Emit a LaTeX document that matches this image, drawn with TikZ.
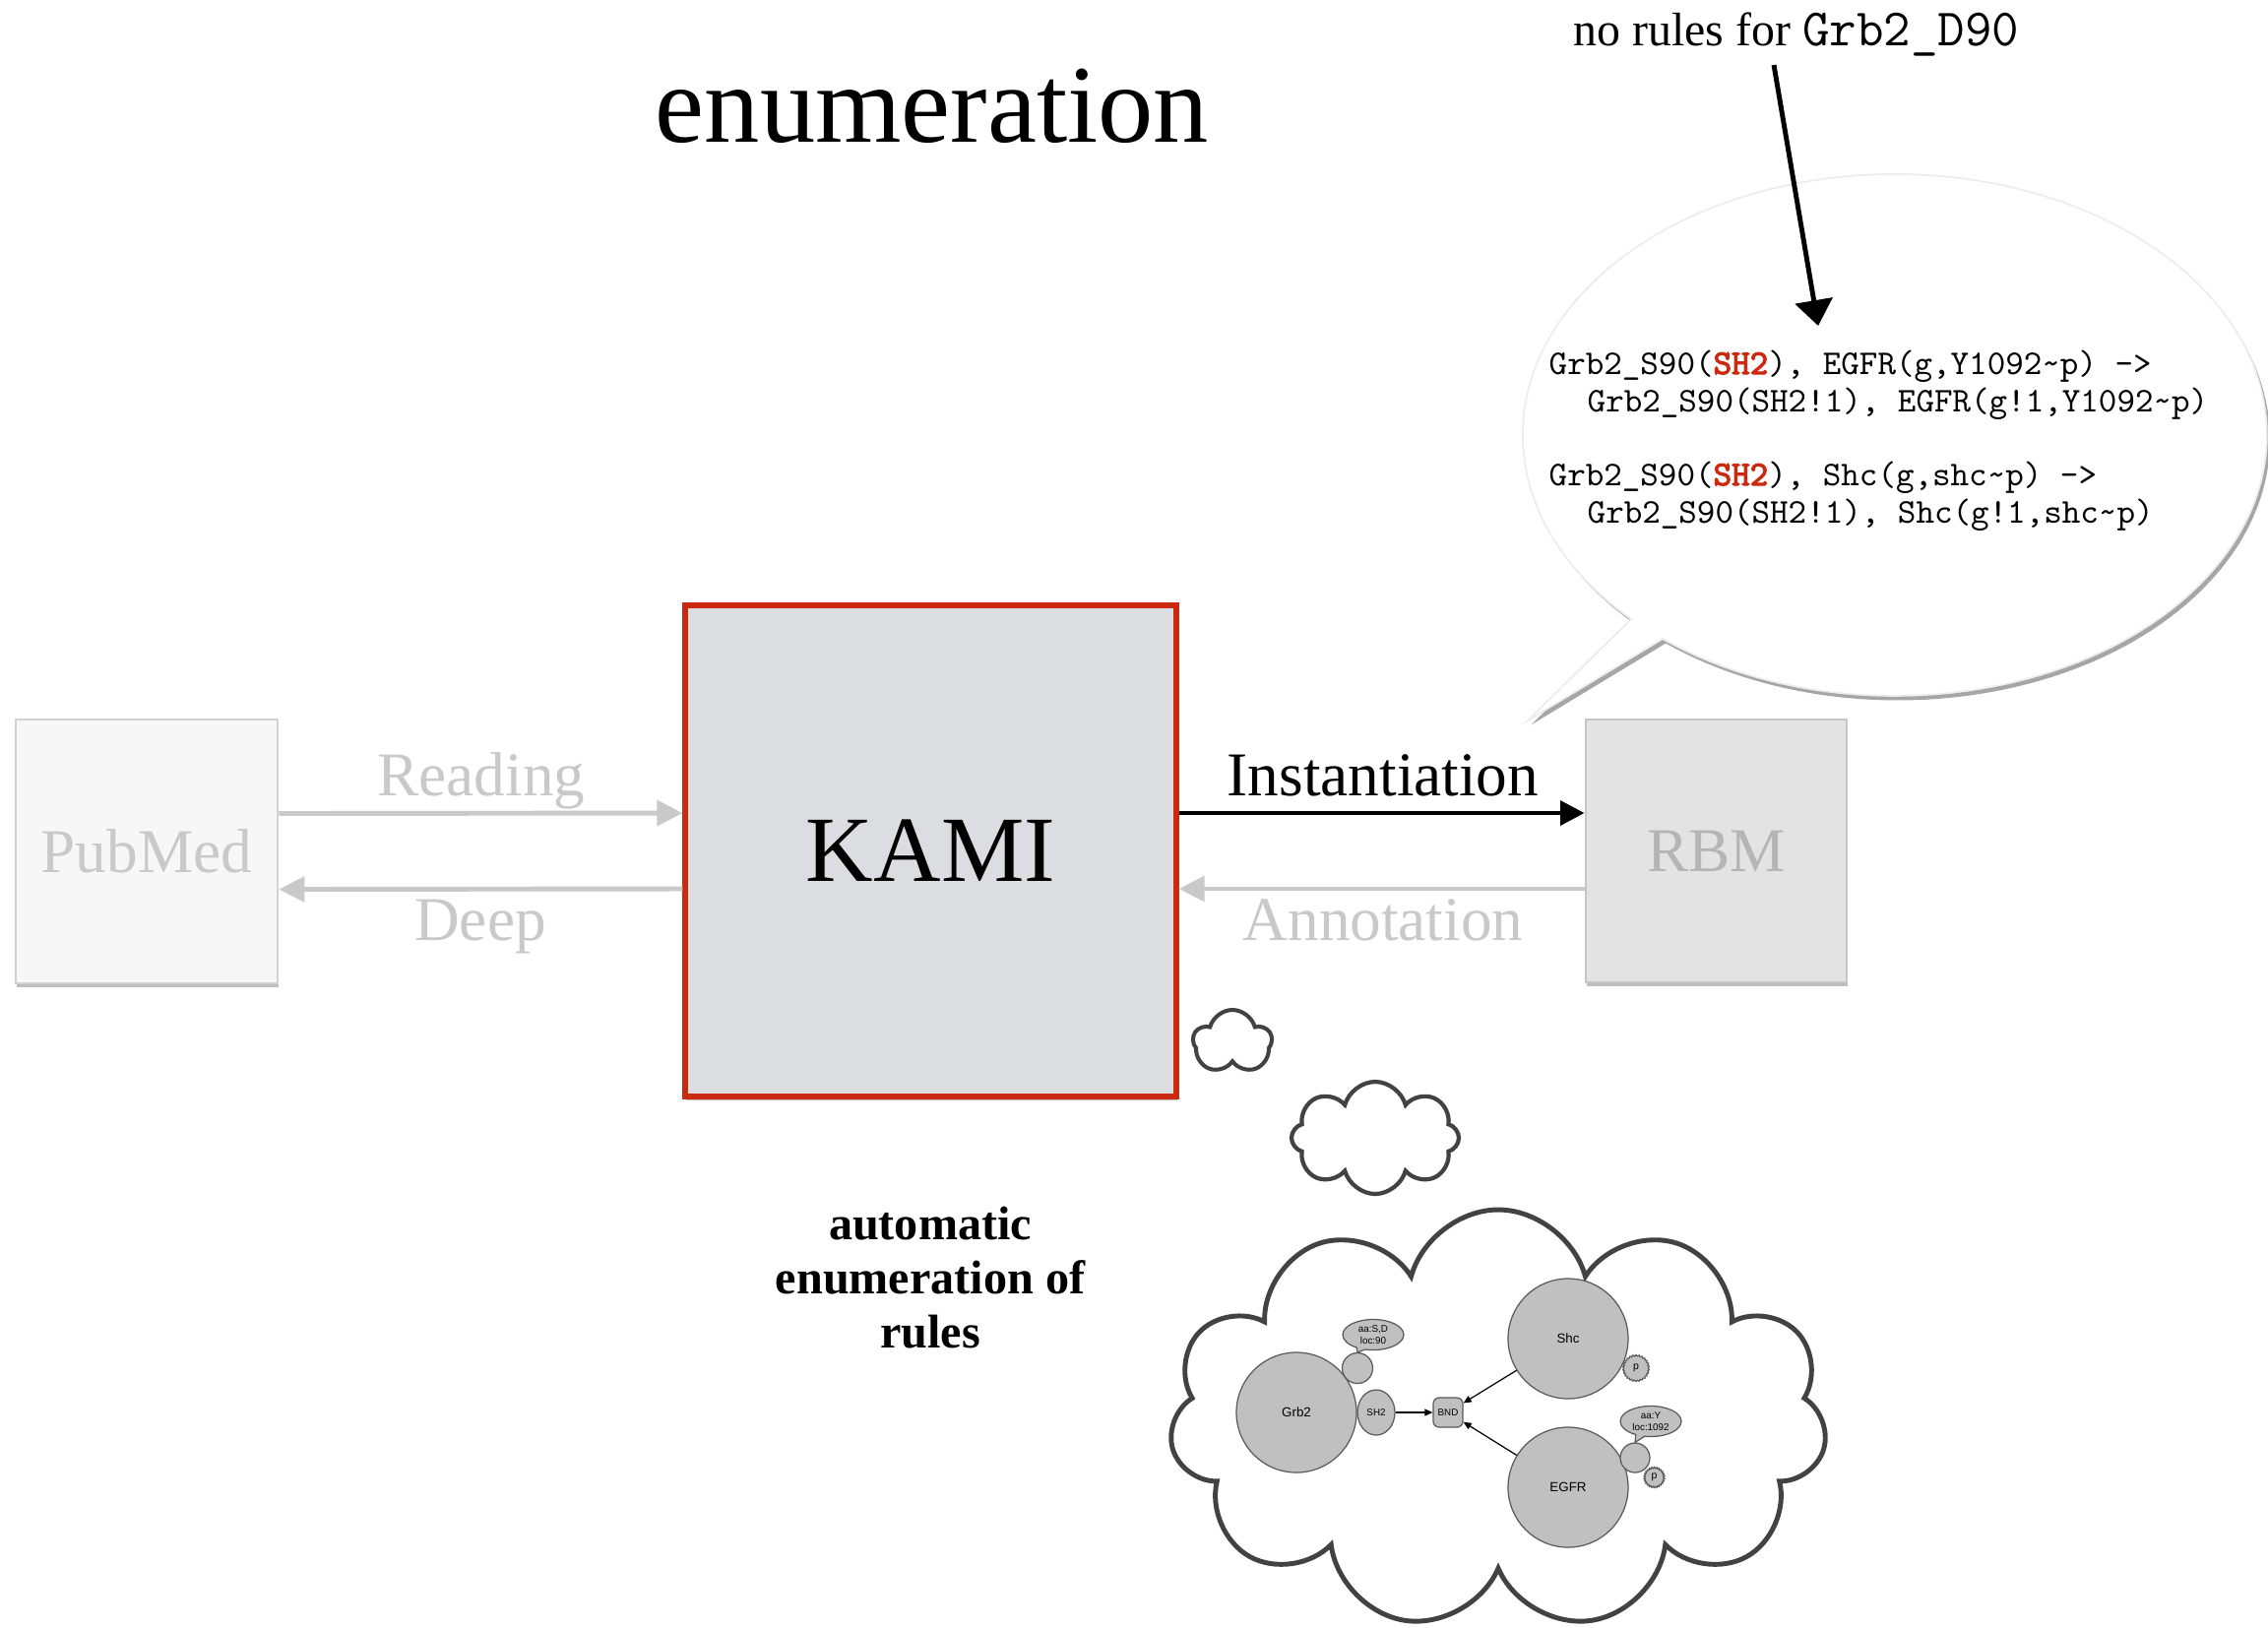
\documentclass[tikz,border=0pt]{standalone}
\usepackage{fontspec}
\setmainfont{Liberation Serif}
\newfontfamily\graphfont{Liberation Sans}
\newfontfamily\codebold{lmmono10-regular.otf}[FakeBold=3]
\usetikzlibrary{arrows.meta, shapes.symbols, shapes.geometric, shapes.callouts, shadows}

\definecolor{kamired}{HTML}{CC2A10}
\definecolor{kamifill}{HTML}{DCDDE0}
\definecolor{pubfill}{HTML}{F7F7F7}
\definecolor{publine}{HTML}{D2D2D2}
\definecolor{fadetext}{HTML}{C9C9C9}
\definecolor{rbmfill}{HTML}{E3E3E3}
\definecolor{rbmline}{HTML}{C6C6C6}
\definecolor{rbmtext}{HTML}{B5B5B5}
\definecolor{cloudline}{HTML}{424242}
\definecolor{molfill}{HTML}{C0C0C0}
\definecolor{molline}{HTML}{5A5A5A}
\definecolor{codered}{HTML}{CC2A10}

\newcommand{\hotsite}[1]{{\codebold\color{codered}#1}}

\tikzset{
  softshadow/.style={drop shadow={shadow xshift=0.3pt, shadow yshift=-1.2pt, opacity=0.25, fill=black}},
  box/.style={rectangle, inner sep=0pt, font=\fontsize{18}{21}\selectfont},
  faded arrow/.style={draw=fadetext, line width=1.4pt, -{Triangle[length=7.4pt,width=7.2pt]}},
  main arrow/.style={draw=black, line width=1.35pt, -{Triangle[length=7pt,width=7pt]}},
  arrowlabel/.style={anchor=base, inner sep=0pt, font=\fontsize{18}{21}\selectfont},
  code/.style={anchor=base west, inner sep=0pt, font=\fontsize{10.05}{12}\selectfont\ttfamily},
  thought/.style={cloud, draw=cloudline, fill=white, inner sep=0pt, cloud ignores aspect},
  mol/.style={circle, fill=molfill, draw=molline, line width=0.35pt, inner sep=0pt,
    font=\graphfont\fontsize{3.8}{4.5}\selectfont},
  molsmall/.style={fill=molfill, draw=molline, line width=0.35pt, inner sep=0pt,
    font=\graphfont\fontsize{2.8}{3.3}\selectfont},
  pnode/.style={molsmall, starburst, starburst points=26, starburst point height=0.35pt,
    random starburst=0, font=\graphfont\fontsize{3}{3.5}\selectfont},
  tag/.style={molsmall, ellipse callout, align=center, minimum width=0.62cm, minimum height=0.31cm,
    callout pointer arc=18},
  molarrow/.style={draw=black, line width=0.35pt, -{Triangle[length=2.3pt,width=2pt]}}
}

\begin{document}
\begin{tikzpicture}
\useasboundingbox (0,0) rectangle (23.04,-16.53);
\fill[white] (0,0) rectangle (23.04,-16.53);

% headings
\node[anchor=base, inner sep=0pt, font=\fontsize{32}{38}\selectfont] (title) at (9.47,-1.44) {enumeration};
\node[anchor=base, inner sep=0pt, font=\fontsize{13.6}{16}\selectfont] (norules) at (18.25,-0.46)
  {no rules for {\fontsize{15.2}{18}\selectfont\ttfamily Grb2\_D90}};

% speech bubble holding the rules
\filldraw[fill=white, draw=black!7, line width=0.5pt,
  drop shadow={shadow xshift=0.9pt, shadow yshift=-1.3pt, opacity=0.35, fill=black}]
  (16.57,-6.29) -- (15.52,-7.32) -- (16.89,-6.49)
  arc[start angle=231.4, end angle=584.9, x radius=3.78cm, y radius=2.65cm] -- cycle;

\coordinate (ptrfrom) at (18.02,-0.66);
\coordinate (ptrto) at (18.47,-3.31);
\draw[draw=black, line width=1.4pt, -{Triangle[length=7.4pt,width=10.8pt]}] (ptrfrom) -- (ptrto);

\node[code] (rule1a) at (15.73,-3.80) {Grb2\_S90(\hotsite{SH2}), EGFR(g,Y1092\textasciitilde p) ->};
\node[code] (rule1b) at (16.12,-4.185) {Grb2\_S90(SH2!1), EGFR(g!1,Y1092\textasciitilde p)};
\node[code] (rule2a) at (15.73,-4.93) {Grb2\_S90(\hotsite{SH2}), Shc(g,shc\textasciitilde p) ->};
\node[code] (rule2b) at (16.12,-5.31) {Grb2\_S90(SH2!1), Shc(g!1,shc\textasciitilde p)};

% main boxes
\node[box, draw=publine, line width=0.8pt, fill=pubfill, text=fadetext, softshadow,
  minimum width=2.66cm, minimum height=2.68cm] (pubmed) at (1.49,-8.65) {PubMed};
\node[box, draw=kamired, line width=1.45pt, fill=kamifill, softshadow,
  minimum width=4.99cm, minimum height=4.99cm, font=\fontsize{27}{32}\selectfont] (kami) at (9.455,-8.645) {KAMI};
\node[box, draw=rbmline, line width=0.8pt, fill=rbmfill, text=rbmtext, softshadow,
  minimum width=2.65cm, minimum height=2.67cm] (rbm) at (17.435,-8.645) {RBM};

% connectors between the boxes
\draw[faded arrow] ([yshift=0.385cm]pubmed.east) -- ([yshift=0.385cm]kami.west);
\draw[faded arrow] ([yshift=-0.385cm]kami.west) -- ([yshift=-0.385cm]pubmed.east);
\draw[main arrow] ([yshift=0.385cm]kami.east) -- ([yshift=0.385cm]rbm.west);
\draw[faded arrow] ([yshift=-0.385cm]rbm.west) -- ([yshift=-0.385cm]kami.east);

\node[arrowlabel, text=fadetext] (reading) at (4.89,-8.086) {Reading};
\node[arrowlabel, text=fadetext] (deep) at (4.88,-9.55) {Deep};
\node[arrowlabel] (inst) at (14.05,-8.08) {Instantiation};
\node[arrowlabel, text=fadetext] (annot) at (14.05,-9.55) {Annotation};

% caption
\node[align=center, inner sep=0pt, font=\bfseries\fontsize{13.7}{15.6}\selectfont] (auto) at (9.45,-12.98)
  {automatic\\enumeration of\\rules};

% thought clouds
\node[thought, cloud puffs=5, line width=1.15pt, minimum width=0.80cm, minimum height=0.66cm] (puffa) at (12.52,-10.59) {};
\node[thought, cloud puffs=8, line width=1.2pt, minimum width=1.70cm, minimum height=1.14cm] (puffb) at (13.97,-11.56) {};
\node[thought, cloud puffs=11, line width=1.4pt, minimum width=6.68cm, minimum height=4.26cm] (puffc) at (15.22,-14.42) {};

% binding graph inside the big cloud
\node[mol, minimum size=1.22cm] (grb2) at (13.17,-14.35) {Grb2};
\node[mol, minimum size=0.31cm] (grbsite) at (13.79,-13.90) {};
\node[molsmall, ellipse, minimum width=0.38cm, minimum height=0.46cm] (sh2) at (13.98,-14.35) {SH2};
\node[molsmall, rectangle, rounded corners=0.06cm, minimum size=0.30cm] (bnd) at (14.71,-14.35) {BND};
\node[mol, minimum size=1.22cm] (shc) at (15.93,-13.60) {Shc};
\node[pnode, minimum size=0.27cm] (shcp) at (16.62,-13.90) {p};
\node[mol, minimum size=1.22cm] (egfr) at (15.93,-15.11) {EGFR};
\node[mol, minimum size=0.30cm] (egfrsite) at (16.61,-14.81) {};
\node[pnode, minimum size=0.21cm] (egfrp) at (16.805,-15.01) {p};
\node[tag, callout absolute pointer={(grbsite.north)}] (sdtag) at (13.95,-13.56) {aa:S,D\\loc:90};
\node[tag, callout absolute pointer={(egfrsite.north)}] (ytag) at (16.77,-14.44) {aa:Y\\loc:1092};

\draw[molarrow] (sh2) -- (bnd);
\draw[molarrow] (shc) -- (bnd);
\draw[molarrow] (egfr) -- (bnd);
\end{tikzpicture}
\end{document}
